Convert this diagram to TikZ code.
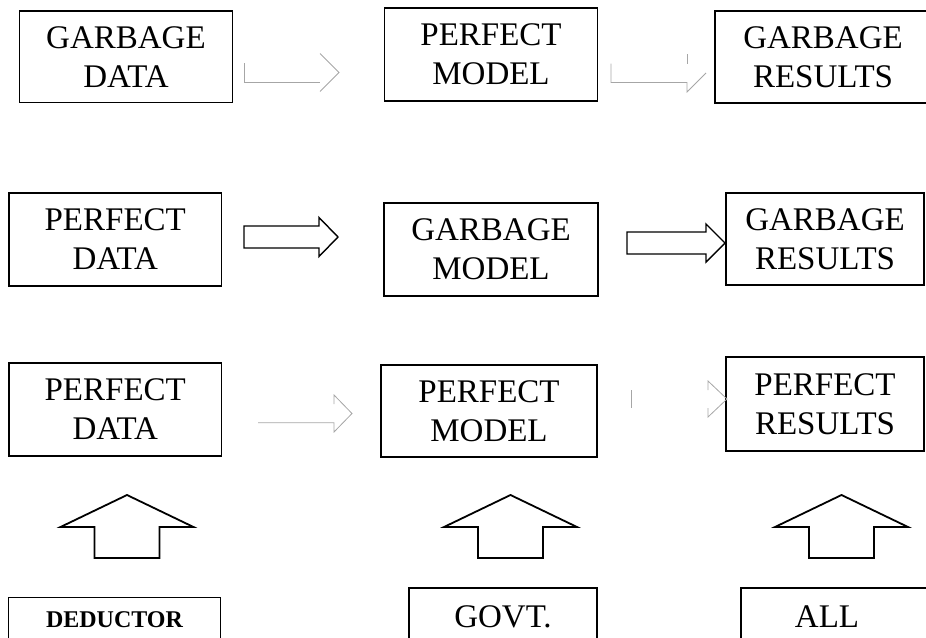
\documentclass[tikz,border=0pt]{standalone}
\usepackage{fontspec}
\setmainfont{Liberation Serif}

\newcommand\bigtext{\fontsize{33}{39}\selectfont}
\newcommand\tagtext{\fontsize{24}{28}\selectfont\bfseries}

% corners of a right-pointing block arrow:
% #1 left x, #2 head base x, #3 tip x, #4 centre y, #5 half shaft, #6 half head
\newcommand\arrowcorners[6]{%
  \coordinate (p1) at (#1,#4-#5);
  \coordinate (p2) at (#2,#4-#5);
  \coordinate (p3) at (#2,#4-#6);
  \coordinate (p4) at (#3,#4);
  \coordinate (p5) at (#2,#4+#6);
  \coordinate (p6) at (#2,#4+#5);
  \coordinate (p7) at (#1,#4+#5);}

% upward block arrow centred on x = #1
\newcommand\uparrowat[1]{%
  \draw[uparrow] (#1-32.5,558) -- (#1-32.5,527) -- (#1-66.5,527) -- (#1,495)
    -- (#1+66.5,527) -- (#1+32.5,527) -- (#1+32.5,558) -- cycle;}

\begin{document}
\begin{tikzpicture}[x=1pt,y=-1pt,
  box/.style={draw, line width=1.2pt, inner sep=0pt, align=center, font=\bigtext},
  faint/.style={draw=black!35, line width=0.8pt},
  solidarrow/.style={draw, line width=1.4pt, line join=miter},
  uparrow/.style={draw, line width=1.8pt, line join=miter}]
\useasboundingbox (0,0) rectangle (926,637);
\clip (0,0) rectangle (926,637);

% first row
\node[box, minimum width=213pt, minimum height=91.5pt] (gd1) at (126,56.7) {GARBAGE\\DATA};
\node[box, minimum width=213pt, minimum height=93pt] (pm1) at (491,54.5) {PERFECT\\MODEL};
\node[box, minimum width=216pt, minimum height=92pt] (gr1) at (823,57) {GARBAGE\\RESULTS};

\arrowcorners{244}{320}{339}{72.5}{9.5}{19}
\draw[faint] (p1) -- (p7) -- (p6);
\draw[faint] (p3) -- (p4) -- (p5);
\arrowcorners{611}{687}{706}{73}{9.5}{19}
\draw[faint] (p1) -- (p7) -- (p6) -- (p5) -- (p4);
\draw[faint] (p2) -- (p3);

% second row
\node[box, minimum width=212.5pt, minimum height=93pt] (pd2) at (115.25,239.5) {PERFECT\\DATA};
\node[box, minimum width=214pt, minimum height=93pt] (gm2) at (491,249.5) {GARBAGE\\MODEL};
\node[box, minimum width=198pt, minimum height=92pt] (gr2) at (825,239) {GARBAGE\\RESULTS};

\arrowcorners{244}{319}{338}{237}{11}{19.5}
\draw[solidarrow] (p1) -- (p2) -- (p3) -- (p4) -- (p5) -- (p6) -- (p7) -- cycle;
\arrowcorners{627}{706}{725}{243}{11}{19}
\draw[solidarrow] (p1) -- (p2) -- (p3) -- (p4) -- (p5) -- (p6) -- (p7) -- cycle;

% third row
\node[box, minimum width=212.5pt, minimum height=93pt] (pd3) at (115.25,409.5) {PERFECT\\DATA};
\node[box, minimum width=216pt, minimum height=92pt] (pm3) at (489,411) {PERFECT\\MODEL};
\node[box, minimum width=198pt, minimum height=94pt] (pr3) at (825,404) {PERFECT\\RESULTS};

\arrowcorners{258}{334}{352}{413.5}{9.3}{18.5}
\draw[faint] (p7) -- (p6) -- (p5) -- (p4) -- (p3) -- (p2);
\arrowcorners{631}{708}{727}{399}{9}{18}
\draw[faint] (p1) -- (p7);
\draw[faint] (p2) -- (p3) -- (p4) -- (p5) -- (p6);

% upward arrows
\uparrowat{127}
\uparrowat{510.5}
\uparrowat{841.5}

% bottom row
\node[box, font=\tagtext, minimum width=212.5pt, minimum height=44pt] (ded) at (114.5,619.3) {DEDUCTOR};
\node[box, minimum width=188pt, minimum height=58pt] (govt) at (503,617) {GOVT.};
\node[box, minimum width=219pt, minimum height=58pt] (all) at (850.5,617) {};
\node[font=\bigtext, inner sep=0pt] (alltext) at (827,617) {ALL};
\end{tikzpicture}
\end{document}
